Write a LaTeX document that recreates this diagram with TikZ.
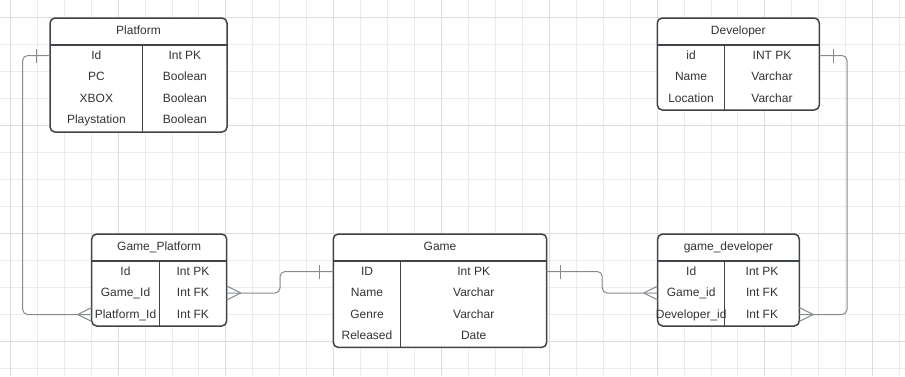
\documentclass[tikz,border=0pt]{standalone}
\usepackage{fontspec}
\setmainfont{Liberation Sans}
\usetikzlibrary{calc}

\definecolor{gridminor}{HTML}{EBEBEB}
\definecolor{gridmajor}{HTML}{DCDCDC}
\definecolor{boxline}{HTML}{3F4448}
\definecolor{connline}{HTML}{858A8F}
\definecolor{txt}{HTML}{333333}

\tikzset{
  tablebox/.style={draw=boxline, line width=1.5pt, fill=white, rounded corners=5pt,
    rectangle, inner sep=0pt, outer sep=0pt, anchor=north west},
  tableline/.style={draw=boxline, line width=1.5pt},
  celltext/.style={text=txt, inner sep=0pt, anchor=base, font=\fontsize{12}{14}\selectfont},
  conn/.style={draw=connline, line width=1pt},
  route/.style={conn, rounded corners=5pt},
}

% ER table: #1 name, #2 top-left corner, #3 width, #4 height,
% #5 width of the left column, #6 title, #7 rows as field/type pairs
\newcommand{\ertable}[7]{%
  \node[tablebox, minimum width=#3pt, minimum height=#4pt] (#1) at (#2) {};
  \node[celltext] (#1-title) at ($(#1.north)+(0,16.5)$) {#6};
  \draw[tableline] ($(#1.north west)+(0,27)$) -- ($(#1.north east)+(0,27)$);
  \draw[tableline] ($(#1.north west)+(#5,27)$) -- ($(#1.south west)+(#5,0)$);
  \foreach \fa/\fb [count=\k] in {#7} {
    \node[celltext] (#1-\k-a) at ($(#1.north west)+(#5/2,19.8+21.5*\k)$) {\fa};
    \node[celltext] (#1-\k-b) at ($(#1.north west)+(#3/2+#5/2,19.8+21.5*\k)$) {\fb};
  }
}

% "many" end: three rays meeting 14pt away from the table edge
\newcommand{\manyend}[2]{%
  \draw[conn] ($(#1)+(#2*14,0)$) -- ($(#1)+(0,-7)$)
              ($(#1)+(#2*14,0)$) -- ($(#1)+(0,7)$);}
% "one" end: a single bar across the line
\newcommand{\oneend}[2]{%
  \draw[conn] ($(#1)+(#2*14,-7)$) -- ($(#1)+(#2*14,7)$);}

\begin{document}
\begin{tikzpicture}[x=1pt, y=-1pt]
  \useasboundingbox (0,0) rectangle (905,376);
  \fill[white] (0,0) rectangle (905,376);

  % background grid
  \foreach \i in {0,...,33} {
    \draw[gridminor, line width=1pt] (10.3+26.95*\i,0) -- (10.3+26.95*\i,376);
  }
  \foreach \j in {-1,...,13} {
    \draw[gridminor, line width=1pt] (0,17+27*\j) -- (905,17+27*\j);
  }
  \foreach \i in {0,...,8} {
    \draw[gridmajor, line width=1pt] (10.3+107.8*\i,0) -- (10.3+107.8*\i,376);
  }
  \foreach \j in {0,...,3} {
    \draw[gridmajor, line width=1pt] (0,17+108*\j) -- (905,17+108*\j);
  }

  % tables
  \ertable{platform}{50,18}{177}{114}{92.7}{Platform}
    {Id/Int PK, PC/Boolean, XBOX/Boolean, Playstation/Boolean}
  \ertable{developer}{657.3,18}{162}{92}{67.4}{Developer}
    {id/INT PK, Name/Varchar, Location/Varchar}
  \ertable{gameplatform}{91.7,234}{135}{92}{67.6}{Game\_Platform}
    {Id/Int PK, Game\_Id/Int FK, Platform\_Id/Int FK}
  \ertable{game}{333.3,234}{213.4}{113.4}{67.4}{Game}
    {ID/Int PK, Name/Varchar, Genre/Varchar, Released/Date}
  \ertable{gamedeveloper}{657.7,234}{141.6}{92}{67}{game\_developer}
    {Id/Int PK, Game\_id/Int FK, Developer\_id/Int FK}

  % connection points on the table edges
  \coordinate (pf-id)  at ($(platform.north west)+(0,37.5)$);
  \coordinate (dv-id)  at ($(developer.north east)+(0,37.5)$);
  \coordinate (gp-gid) at ($(gameplatform.north east)+(0,59)$);
  \coordinate (gp-pid) at ($(gameplatform.north west)+(0,80.5)$);
  \coordinate (gm-idw) at ($(game.north west)+(0,37.5)$);
  \coordinate (gm-ide) at ($(game.north east)+(0,37.5)$);
  \coordinate (gd-gid) at ($(gamedeveloper.north west)+(0,59)$);
  \coordinate (gd-did) at ($(gamedeveloper.north east)+(0,80.5)$);

  % routing columns
  \coordinate (leftlane)  at (22.7,0);
  \coordinate (rightlane) at (847,0);
  \coordinate (midgp)     at ($(gp-gid)!0.5!(gm-idw)$);
  \coordinate (midgd)     at ($(gm-ide)!0.5!(gd-gid)$);

  % Platform 1 -- many Game_Platform
  \draw[route] (pf-id) -- (pf-id -| leftlane) -- (gp-pid -| leftlane) -- (gp-pid);
  \oneend{pf-id}{-1}
  \manyend{gp-pid}{-1}

  % Game 1 -- many Game_Platform
  \draw[route] (gp-gid) -- (gp-gid -| midgp) -- (gm-idw -| midgp) -- (gm-idw);
  \manyend{gp-gid}{1}
  \oneend{gm-idw}{-1}

  % Game 1 -- many game_developer
  \draw[route] (gm-ide) -- (gm-ide -| midgd) -- (gd-gid -| midgd) -- (gd-gid);
  \oneend{gm-ide}{1}
  \manyend{gd-gid}{-1}

  % Developer 1 -- many game_developer
  \draw[route] (gd-did) -- (gd-did -| rightlane) -- (dv-id -| rightlane) -- (dv-id);
  \manyend{gd-did}{1}
  \oneend{dv-id}{1}
\end{tikzpicture}
\end{document}
